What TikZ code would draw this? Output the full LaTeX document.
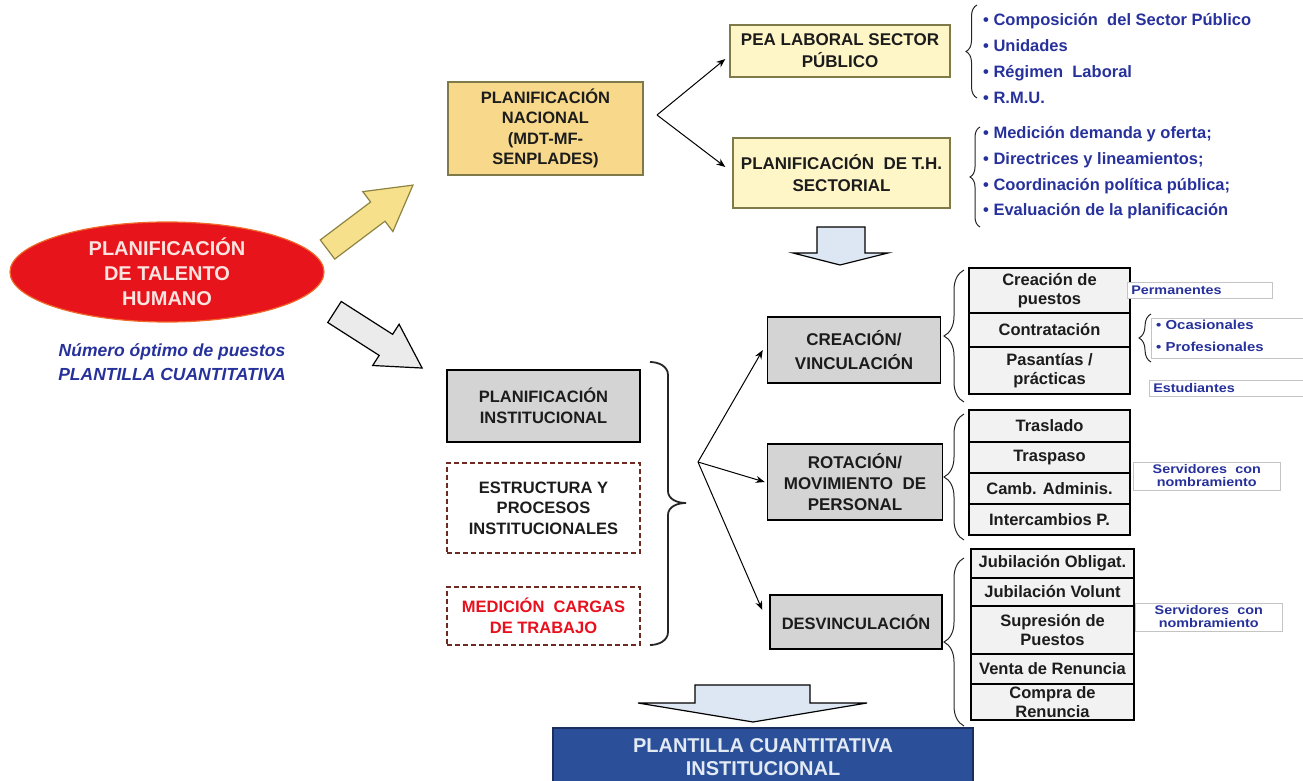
\documentclass[tikz,border=0pt]{standalone}
\usepackage{fontspec}
\setmainfont{Liberation Sans}
\newfontfamily\lblfont{Liberation Sans}[FakeStretch=1.15]
\usetikzlibrary{shapes.geometric,decorations.pathreplacing,arrows.meta,calc}

\definecolor{txtdark}{HTML}{1C1C1C}
\definecolor{navy}{HTML}{27319B}
\definecolor{goldfill}{HTML}{F8D98B}
\definecolor{creamfill}{HTML}{FFF6C8}
\definecolor{olivedraw}{HTML}{7F7A4A}
\definecolor{boxgray}{HTML}{D4D4D4}
\definecolor{rowgray}{HTML}{F2F2F2}
\definecolor{ovalred}{HTML}{E8141C}
\definecolor{ovaledge}{HTML}{F06A2A}
\definecolor{ovaltext}{HTML}{FBE3E0}
\definecolor{arrowyellow}{HTML}{F7E08C}
\definecolor{arrowyedge}{HTML}{8C8440}
\definecolor{arrowgray}{HTML}{EBEBEB}
\definecolor{arrowblue}{HTML}{DDE7F3}
\definecolor{deepblue}{HTML}{2B4F98}
\definecolor{deepbluedraw}{HTML}{1A2F5E}
\definecolor{paletext}{HTML}{E2EAF4}
\definecolor{dashred}{HTML}{6B2A22}
\definecolor{alertred}{HTML}{E8101C}
\definecolor{labelline}{HTML}{C4C4C4}

\newcommand{\setfs}[2]{\fontsize{#1}{#2}\selectfont}

\tikzset{
  txtbox/.style={align=center, inner sep=0pt, text=txtdark,
    font=\bfseries\setfs{16.5}{20.5}},
  natbox/.style={txtbox, draw=olivedraw, fill=goldfill, line width=1.2pt},
  secbox/.style={txtbox, draw=olivedraw, fill=creamfill, line width=1.4pt,
    font=\bfseries\setfs{17}{22}},
  graybox/.style={txtbox, draw=black, fill=boxgray, line width=1.5pt},
  dashbox/.style={txtbox, draw=dashred, fill=white, line width=1.3pt,
    dash pattern=on 5pt off 3pt},
  rowbox/.style={txtbox, draw=black, fill=rowgray, line width=1.5pt,
    font=\bfseries\setfs{16.5}{19}},
  lblbox/.style={draw=labelline, fill=white, line width=0.6pt, inner ysep=0pt,
    inner xsep=4pt, align=left, text=navy, font=\lblfont\bfseries\setfs{12.5}{13}},
  bullettxt/.style={align=left, inner sep=0pt, text=navy,
    font=\bfseries\setfs{16.5}{25.7}},
  link/.style={-{Stealth[length=9pt,width=7pt]}, line width=1pt, black},
  curly/.style={decorate, decoration={brace, amplitude=#1}, line width=1pt, black!85},
  blockarrow/.style={line width=1.2pt, line join=miter},
}

\begin{document}
\begin{tikzpicture}[x=1pt, y=-1pt]
\useasboundingbox (0,0) rectangle (1303,781);

% ---------- left: main topic ----------
\node[ellipse, draw=ovaledge, fill=ovalred, line width=1.2pt,
      minimum width=314, minimum height=100, inner sep=0pt, align=center,
      text=ovaltext, font=\bfseries\setfs{20}{25}] (pth) at (167,272)
      {PLANIFICACIÓN\\DE TALENTO\\HUMANO};
\node[align=center, text=navy, font=\bfseries\itshape\setfs{17.5}{24}]
      (quota) at (172,362) {Número óptimo de puestos\\PLANTILLA CUANTITATIVA};

% block arrows leaving the main topic
\begin{scope}[shift={(327.5,249.5)}, rotate=37]
  \draw[blockarrow, draw=arrowyedge, fill=arrowyellow]
    (0,-12) -- (63,-12) -- (63,-25) -- (107,0) -- (63,25) -- (63,12) -- (0,12) -- cycle;
\end{scope}
\begin{scope}[shift={(334.5,312)}, rotate=-32.6]
  \draw[blockarrow, draw=black, fill=arrowgray]
    (0,-12.5) -- (61,-12.5) -- (61,-24.5) -- (104,0) -- (61,24.5) -- (61,12.5) -- (0,12.5) -- cycle;
\end{scope}

% ---------- national planning branch ----------
\node[natbox, minimum width=195, minimum height=93] (nac) at (545.5,128.5)
      {PLANIFICACIÓN\\NACIONAL\\(MDT-MF-\\SENPLADES)};
\node[secbox, minimum width=220, minimum height=52] (pea) at (840,51)
      {PEA LABORAL SECTOR\\PÚBLICO};
\node[secbox, minimum width=217, minimum height=70] (sect) at (841.5,173)
      {PLANIFICACIÓN\ \ DE T.H.\\SECTORIAL};

\coordinate (forkA) at (657,115);
\draw[link] (forkA) -- ([xshift=-4pt,yshift=-8pt]pea.west);
\draw[link] (forkA) -- ([xshift=-7pt,yshift=6pt]sect.west);

\draw[curly=11pt] (977,98) -- (977,5);
\node[bullettxt, anchor=west] (peaitems) at (983,58.5)
      {• Composición\ \ del Sector Público\\• Unidades\\• Régimen\ \ Laboral\\• R.M.U.};
\draw[curly=10pt] (980,227) -- (980,127);
\node[bullettxt, anchor=west] (sectitems) at (983,173)
      {• Medición demanda y oferta;\\• Directrices y lineamientos;\\• Coordinación política pública;\\• Evaluación de la planificación};

% down arrow between the two branches
\draw[blockarrow, draw=black, fill=arrowblue]
  (817,227) -- (865,227) -- (865,253) -- (888,253) -- (840,265) -- (793,253) -- (817,253) -- cycle;

% ---------- institutional branch ----------
\node[graybox, minimum width=193, minimum height=72] (inst) at (543.5,406)
      {PLANIFICACIÓN\\INSTITUCIONAL};
\node[dashbox, minimum width=193, minimum height=90] (estr) at (543.5,508)
      {ESTRUCTURA Y\\PROCESOS\\INSTITUCIONALES};
\node[dashbox, minimum width=193, minimum height=58, text=alertred] (med) at (543.5,616)
      {MEDICIÓN\ \ CARGAS\\DE TRABAJO};

% bracket grouping the three institutional boxes
\draw[line width=1.8pt, black!85]
  (650,362) to[out=0,in=90] (668,375) -- (668,491) to[out=-90,in=180] (686,503)
  (686,503) to[out=180,in=90] (668,515) -- (668,632) to[out=-90,in=0] (650,645);

\node[graybox, minimum width=173, minimum height=66, font=\bfseries\setfs{17}{24}] (crea) at (854,350)
      {CREACIÓN/\\VINCULACIÓN};
\node[graybox, minimum width=175, minimum height=76, font=\bfseries\setfs{17}{21}] (rot) at (855,482)
      {ROTACIÓN/\\MOVIMIENTO\ \ DE\\PERSONAL};
\node[graybox, minimum width=172, minimum height=54] (desv) at (856,622)
      {DESVINCULACIÓN};

\coordinate (forkB) at (698,462);
\draw[link] (forkB) -- ([xshift=-4pt]crea.west);
\draw[link] (forkB) -- ([xshift=-2pt]rot.west);
\draw[link] (forkB) -- ([xshift=-7pt,yshift=12pt]desv.west);

% creation / hiring options
\draw[curly=20pt] (964,402) -- (964,270);
\node[rowbox, minimum width=161, minimum height=45] (r11) at (1049.5,290.5) {Creación de\\puestos};
\node[rowbox, minimum width=161, minimum height=34] (r12) at (1049.5,330) {Contratación};
\node[rowbox, minimum width=161, minimum height=47] (r13) at (1049.5,370.5) {Pasantías /\\prácticas};

\node[lblbox, anchor=west, text width=137, minimum height=16] (perm) at (1127,290.5) {Permanentes};
\node[draw=labelline, line width=0.6pt, minimum width=160, minimum height=40, anchor=west, inner sep=0pt]
      (contrlbl) at (1151,338) {};
\draw[curly=12pt] (1151,362) -- (1151,314);
\node[align=left, inner sep=0pt, anchor=west, text=navy, font=\lblfont\bfseries\setfs{13}{22}]
      (contritems) at (1156,336) {•\ Ocasionales\\•\ Profesionales};
\node[lblbox, anchor=west, text width=160, minimum height=16] (stud) at (1149,388) {Estudiantes};

% rotation options
\draw[curly=20pt] (964,540) -- (964,414);
\node[rowbox, minimum width=161, minimum height=32] (r21) at (1049.5,426) {Traslado};
\node[rowbox, minimum width=161, minimum height=31] (r22) at (1049.5,457.5) {Traspaso};
\node[rowbox, minimum width=161, minimum height=31] (r23) at (1049.5,488.5) {Camb. Adminis.};
\node[rowbox, minimum width=161, minimum height=31] (r24) at (1049.5,519.5) {Intercambios P.};
\node[lblbox, anchor=west, align=center, text width=139, minimum height=28] (serv1) at (1133,476)
      {Servidores\ \ con\\nombramiento};

% separation options
\draw[curly=20pt] (964,726) -- (964,558);
\node[rowbox, minimum width=163, minimum height=29] (r31) at (1052.5,563.5) {Jubilación Obligat.};
\node[rowbox, minimum width=163, minimum height=28] (r32) at (1052.5,592) {Jubilación Volunt};
\node[rowbox, minimum width=163, minimum height=48] (r33) at (1052.5,630) {Supresión de\\Puestos};
\node[rowbox, minimum width=163, minimum height=30] (r34) at (1052.5,669) {Venta de Renuncia};
\node[rowbox, minimum width=163, minimum height=36] (r35) at (1052.5,702) {Compra de\\Renuncia};
\node[lblbox, anchor=west, align=center, text width=139, minimum height=28] (serv2) at (1135,617)
      {Servidores\ \ con\\nombramiento};

% ---------- result ----------
\draw[blockarrow, draw=black, fill=arrowblue]
  (695,685) -- (810,685) -- (810,703) -- (867,703) -- (753,722) -- (638,703) -- (695,703) -- cycle;
\node[draw=deepbluedraw, fill=deepblue, line width=1.5pt, minimum width=420, minimum height=58,
      inner sep=0pt, align=center, text=paletext, font=\bfseries\setfs{20}{23}]
      (result) at (763,757) {PLANTILLA CUANTITATIVA\\INSTITUCIONAL};
\end{tikzpicture}
\end{document}
